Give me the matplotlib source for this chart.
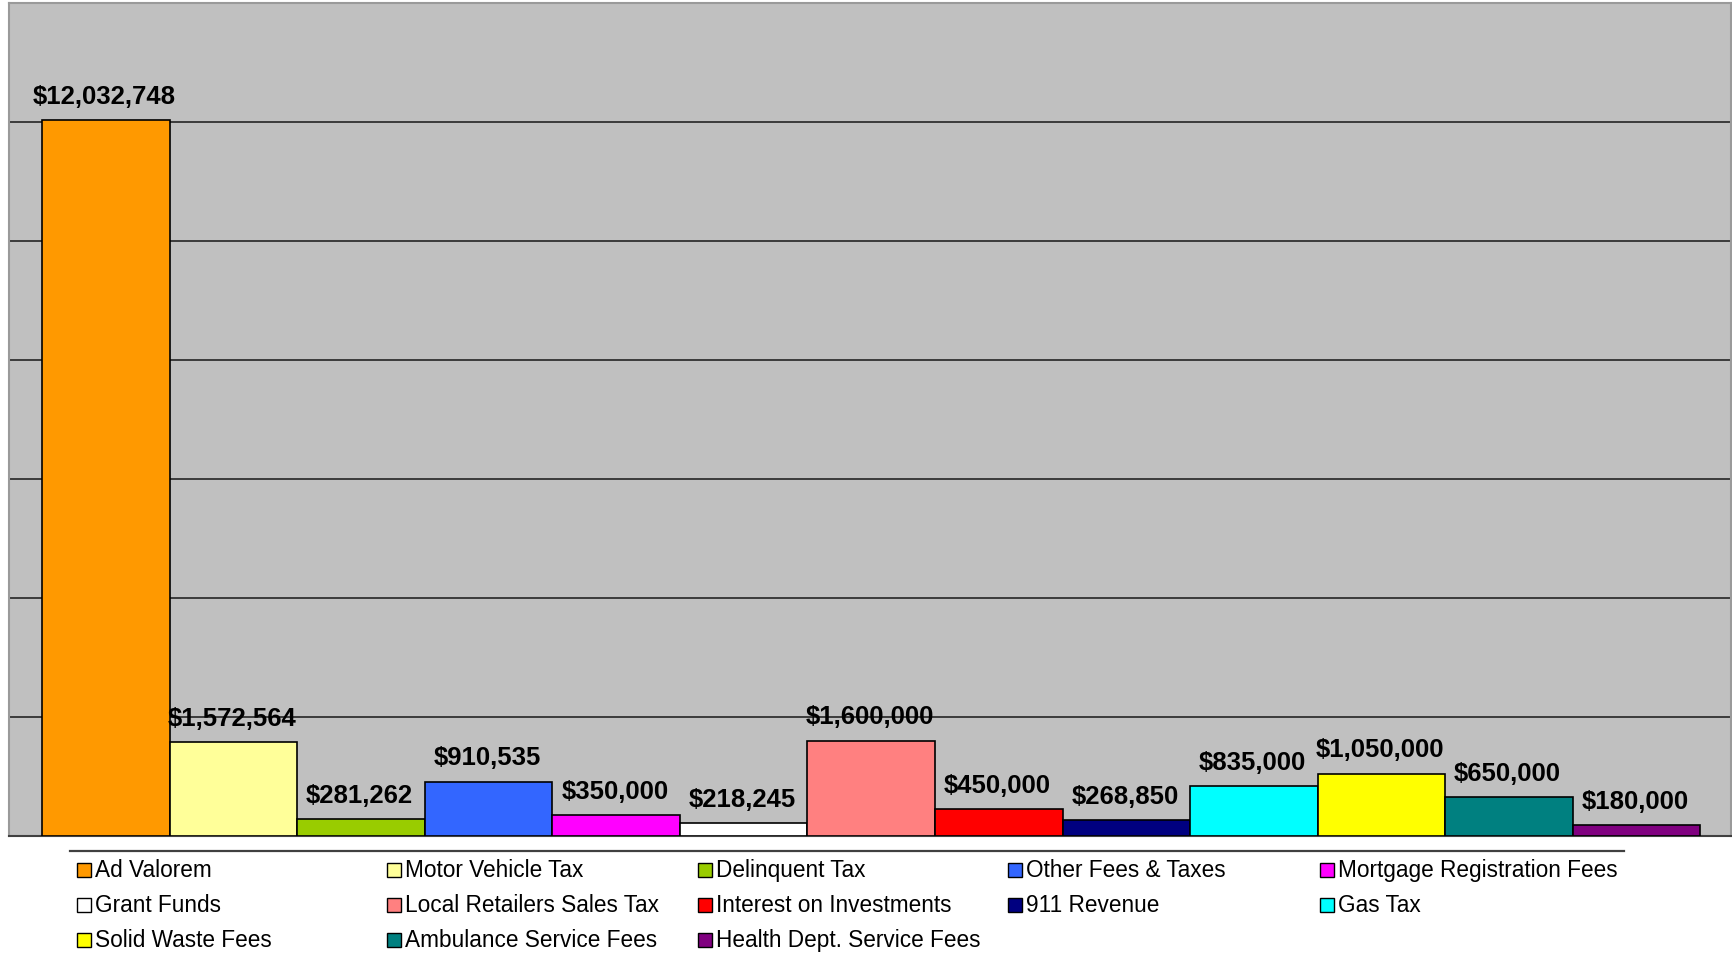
import matplotlib.pyplot as plt
from matplotlib.patches import Rectangle
from matplotlib.lines import Line2D

# Revenue sources and amounts
categories = ['Ad Valorem', 'Motor Vehicle Tax', 'Delinquent Tax', 'Other Fees & Taxes',
              'Mortgage Registration Fees', 'Grant Funds', 'Local Retailers Sales Tax',
              'Interest on Investments', '911 Revenue', 'Gas Tax', 'Solid Waste Fees',
              'Ambulance Service Fees', 'Health Dept. Service Fees']
values = [12032748, 1572564, 281262, 910535, 350000, 218245, 1600000,
          450000, 268850, 835000, 1050000, 650000, 180000]
colors = ['#FF9900', '#FFFF99', '#99CC00', '#3366FF', '#FF00FF', '#FFFFFF', '#FF8080',
          '#FF0000', '#000080', '#00FFFF', '#FFFF00', '#008080', '#800080']

W, H = 1733, 954
fig = plt.figure(figsize=(W / 100, H / 100), dpi=100, facecolor='white')
plt.rcParams['font.family'] = ['Liberation Sans', 'DejaVu Sans']

ax = fig.add_axes([9 / W, 1 - 837 / H, (1731 - 9) / W, (837 - 4) / H])
ax.set_facecolor('#C0C0C0')

x = list(range(len(values)))
ax.bar(x, values, width=1.0, color=colors, edgecolor='black', linewidth=1.2, zorder=3)

for xi, v in zip(x, values):
    ax.annotate(f'${v:,.0f}', (xi, v), xytext=(-1, 9), textcoords='offset points',
                ha='center', va='bottom', fontsize=18.5, fontweight='bold', zorder=4)

ax.set_xlim(-0.76, len(values) - 1 + 0.74)
ax.set_ylim(0, 14000000)
ax.set_yticks(range(2000000, 14000001, 2000000))
ax.grid(axis='y', color='#303030', linewidth=1.3, zorder=1)
ax.tick_params(left=False, bottom=False, labelleft=False, labelbottom=False)
for s in ['left', 'top', 'right']:
    ax.spines[s].set_color('#9a9a9a')
    ax.spines[s].set_linewidth(1.5)
ax.spines['bottom'].set_color('#404040')
ax.spines['bottom'].set_linewidth(1.5)

# legend: separator line and a 5-column grid of entries
fig.add_artist(Line2D([70 / W, 1624 / W], [1 - 852 / H, 1 - 852 / H],
                      color='#404040', linewidth=1.6))
col_x = [77, 387, 698, 1008, 1320]
row_y = [871, 906, 941]
sq = 14
for i, (name, c) in enumerate(zip(categories, colors)):
    cx = col_x[i % 5]
    cy = row_y[i // 5]
    fig.add_artist(Rectangle((cx / W, 1 - (cy + sq / 2) / H), sq / W, sq / H,
                             facecolor=c, edgecolor='black', linewidth=1.0))
    fig.text((cx + sq + 4) / W, 1 - cy / H, name, fontsize=16.3, va='center', ha='left')

fig.savefig('out.png', dpi=100, facecolor='white')
